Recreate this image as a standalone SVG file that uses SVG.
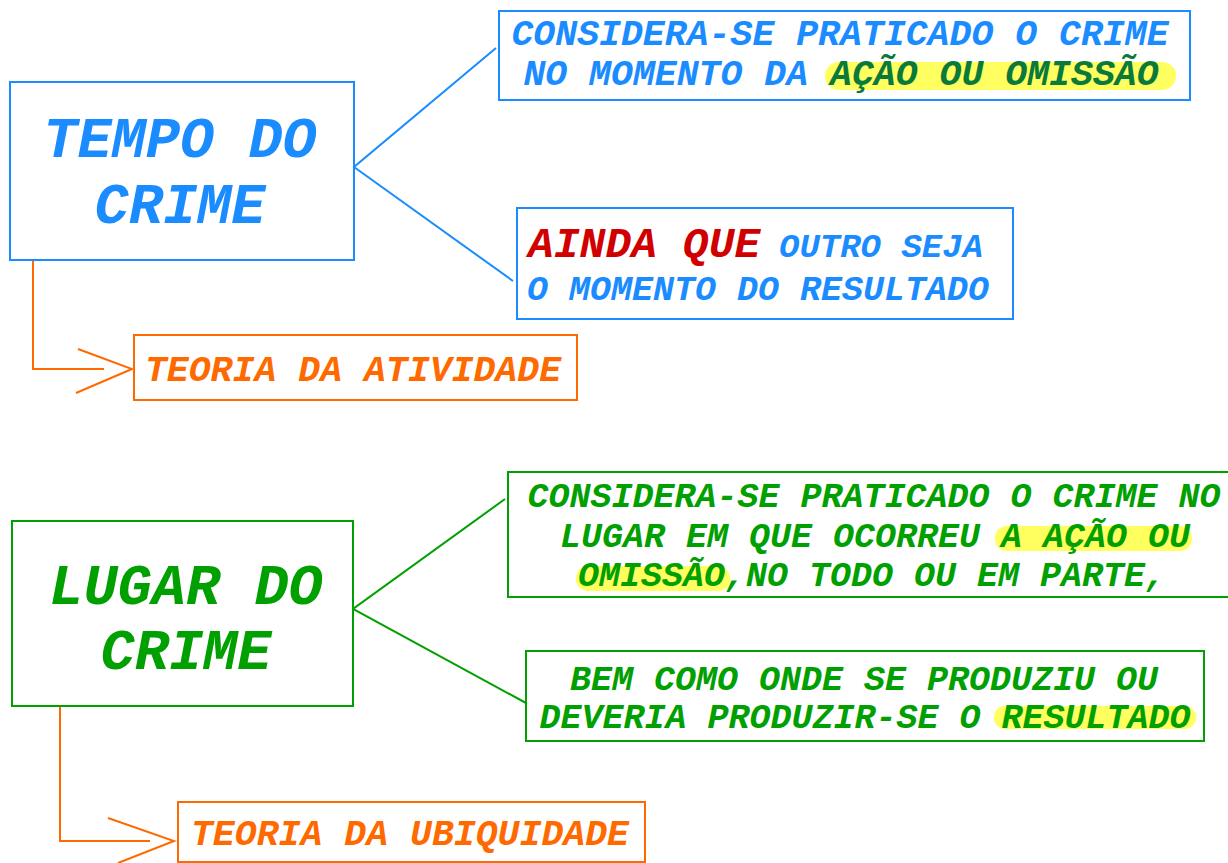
<svg xmlns="http://www.w3.org/2000/svg" width="1228" height="863" viewBox="0 0 1228 863">
<style>
text{font-family:"Liberation Mono","DejaVu Sans Mono",monospace;font-weight:bold;font-style:italic}
.box{fill:#fff;stroke-width:2}
.b{stroke:#1a8cff}.g{stroke:#00a000}.o{stroke:#ff6a00}
.tb{fill:#1a8cff}.tg{fill:#00a000}.to{fill:#ff6a00}.tr{fill:#d00000}.tdg{fill:#0a7a3a}
.hl{fill:#ffff44;opacity:0.85}
.ln{fill:none;stroke-width:2}
.h{font-size:57px}.m{font-size:35px}.l{font-size:36.5px}
</style>
<rect width="1228" height="863" fill="#fff"/>
<g id="connectors">
<polyline class="ln b" points="496,48 354,167 513,281"/>
<polyline class="ln g" points="505,499 353,609 526,703"/>
<polyline class="ln o" points="33,261 33,369 104,369"/>
<polyline class="ln o" points="78,349 132,369 76,393"/>
<polyline class="ln o" points="60,706 60,841 150,841"/>
<polyline class="ln o" points="108,818 174,841 118,863"/>
</g>
<g id="tempo">
<rect class="box b" x="10" y="82" width="344" height="178"/>
<text class="h tb" x="180" y="157" text-anchor="middle">TEMPO DO</text>
<text class="h tb" x="180" y="223" text-anchor="middle">CRIME</text>
</g>
<g id="considera1">
<rect class="box b" x="499" y="11" width="691" height="89"/>
<rect class="hl" x="825" y="62" width="351" height="28" rx="14"/>
<text class="l tb" x="840" y="45" text-anchor="middle">CONSIDERA-SE PRATICADO O CRIME</text>
<text class="l tb" x="841" y="85" text-anchor="middle">NO MOMENTO DA <tspan class="tdg">AÇÃO OU OMISSÃO</tspan></text>
</g>
<g id="ainda">
<rect class="box b" x="517" y="208" width="496" height="111"/>
<text x="528" y="257"><tspan class="tr" font-size="43">AINDA QUE</tspan><tspan class="tb" font-size="34" x="779">OUTRO SEJA</tspan></text>
<text class="m tb" x="527" y="300">O MOMENTO DO RESULTADO</text>
</g>
<g id="atividade">
<rect class="box o" x="134" y="335" width="443" height="65"/>
<text class="l to" x="353" y="381" text-anchor="middle">TEORIA DA ATIVIDADE</text>
</g>
<g id="lugar">
<rect class="box g" x="12" y="521" width="341" height="185"/>
<text class="h tg" x="186" y="604" text-anchor="middle">LUGAR DO</text>
<text class="h tg" x="186" y="669" text-anchor="middle">CRIME</text>
</g>
<g id="considera2">
<rect class="box g" x="508" y="472" width="730" height="125"/>
<rect class="hl" x="995" y="526" width="197" height="25" rx="12"/>
<rect class="hl" x="576" y="566" width="154" height="25" rx="12"/>
<text class="m tg" x="874" y="507" text-anchor="middle">CONSIDERA-SE PRATICADO O CRIME NO</text>
<text class="m tg" x="875" y="547" text-anchor="middle">LUGAR EM QUE OCORREU A AÇÃO OU</text>
<text class="m tg" x="872" y="586" text-anchor="middle">OMISSÃO,NO TODO OU EM PARTE,</text>
</g>
<g id="bemcomo">
<rect class="box g" x="526" y="651" width="678" height="90"/>
<rect class="hl" x="994" y="706" width="202" height="23" rx="11"/>
<text class="m tg" x="864" y="690" text-anchor="middle">BEM COMO ONDE SE PRODUZIU OU</text>
<text class="m tg" x="865" y="728" text-anchor="middle">DEVERIA PRODUZIR-SE O RESULTADO</text>
</g>
<g id="ubiquidade">
<rect class="box o" x="178" y="802" width="467" height="60"/>
<text class="l to" x="410" y="845" text-anchor="middle">TEORIA DA UBIQUIDADE</text>
</g>
</svg>
